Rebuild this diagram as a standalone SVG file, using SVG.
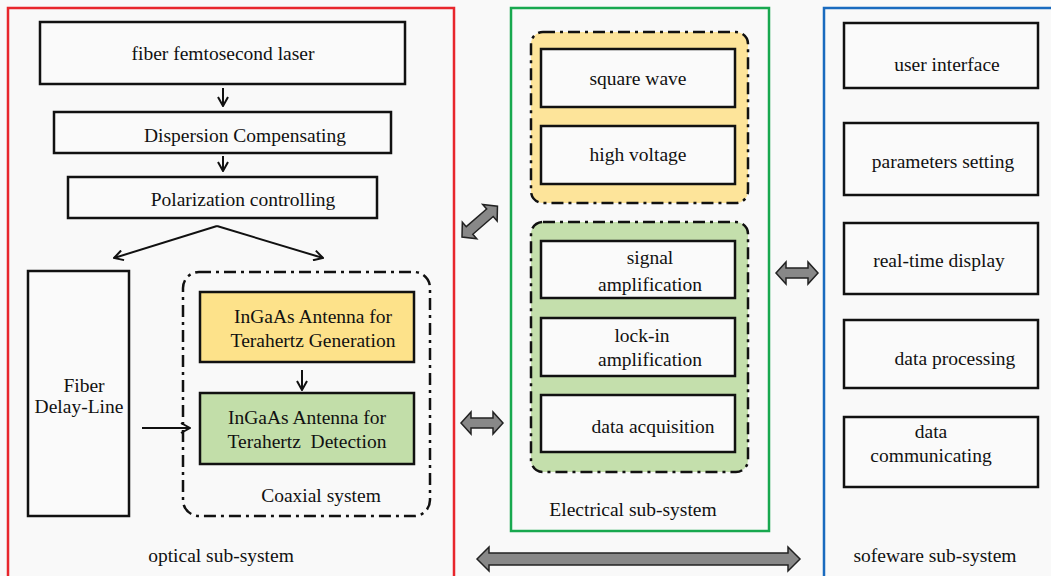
<svg xmlns="http://www.w3.org/2000/svg" width="1051" height="576" viewBox="0 0 1051 576">
<style>
text{font-family:"Liberation Serif","DejaVu Serif",serif;font-size:19.5px;fill:#111;text-anchor:middle}
.box{fill:#fafafa;stroke:#111;stroke-width:2.5}
.ln{stroke:#111;stroke-width:2;fill:none}
.dash{stroke:#111;stroke-width:2.5;stroke-dasharray:12,5,3,5}
.garrow{fill:#888;stroke:#222;stroke-width:1.5}
</style>
<defs>
<marker id="ah" viewBox="0 0 12 12" refX="11" refY="6" markerWidth="12" markerHeight="12" markerUnits="userSpaceOnUse" orient="auto">
<path d="M2,1 L11,6 L2,11" fill="none" stroke="#111" stroke-width="2"/>
</marker>
</defs>
<rect x="0" y="0" width="1051" height="576" fill="#f9f9f9"/>
<g id="optical-frame" font-family="Liberation Serif, serif"><rect x="8" y="8" width="446" height="580" fill="none" stroke="#e8262c" stroke-width="2.5"/><text x="221" y="562">optical sub-system</text></g>
<g id="electrical-frame"><rect x="511" y="8" width="258" height="523" fill="none" stroke="#18a84f" stroke-width="2.5"/><text x="633" y="516">Electrical sub-system</text></g>
<g id="software-frame"><rect x="824" y="8" width="240" height="580" fill="none" stroke="#1a6bbf" stroke-width="2.5"/><text x="935" y="562">sofeware sub-system</text></g>

<g id="laser"><rect class="box" x="40" y="22" width="365" height="62"/><text x="223" y="60">fiber femtosecond laser</text></g>
<g id="dispersion"><rect class="box" x="54" y="112" width="337" height="41"/><text x="245" y="142">Dispersion Compensating</text></g>
<g id="polarization"><rect class="box" x="68" y="177" width="309" height="41"/><text x="243" y="206">Polarization controlling</text></g>
<g id="delay-line"><rect class="box" x="28" y="271" width="101" height="245"/><text x="84" y="392">Fiber</text><text x="79" y="413">Delay-Line</text></g>
<g id="coaxial"><rect x="183" y="272" width="247" height="244" rx="16" fill="none" class="dash"/><text x="321" y="502">Coaxial system</text></g>
<g id="gen"><rect x="200" y="292" width="214" height="70" fill="#fde28a" stroke="#111" stroke-width="2.5"/><text x="313" y="323">InGaAs Antenna for</text><text x="313" y="347">Terahertz Generation</text></g>
<g id="det"><rect x="200" y="393" width="214" height="71" fill="#c2dea9" stroke="#111" stroke-width="2.5"/><text x="307" y="424">InGaAs Antenna for</text><text x="307" y="448" xml:space="preserve">Terahertz  Detection</text></g>

<g id="elec-gen"><rect x="531" y="32" width="217" height="171" rx="12" fill="#fde49a" class="dash"/></g>
<g id="square"><rect class="box" x="541" y="49" width="194" height="58"/><text x="638" y="85">square wave</text></g>
<g id="hv"><rect class="box" x="541" y="126" width="194" height="58"/><text x="638" y="161">high voltage</text></g>
<g id="elec-det"><rect x="531" y="222" width="217" height="250" rx="12" fill="#c4dfac" class="dash"/></g>
<g id="sigamp"><rect class="box" x="541" y="241" width="194" height="57"/><text x="650" y="264">signal</text><text x="650" y="291">amplification</text></g>
<g id="lockin"><rect class="box" x="541" y="318" width="194" height="58"/><text x="642" y="342">lock-in</text><text x="650" y="366">amplification</text></g>
<g id="daq"><rect class="box" x="541" y="395" width="194" height="57"/><text x="653" y="433">data acquisition</text></g>

<g id="ui"><rect class="box" x="844" y="23" width="194" height="65"/><text x="947" y="71">user interface</text></g>
<g id="params"><rect class="box" x="844" y="123" width="194" height="72"/><text x="943" y="168">parameters setting</text></g>
<g id="display"><rect class="box" x="844" y="223" width="194" height="71"/><text x="939" y="267">real-time display</text></g>
<g id="processing"><rect class="box" x="844" y="320" width="194" height="68"/><text x="955" y="365">data processing</text></g>
<g id="communicating"><rect class="box" x="844" y="417" width="194" height="70"/><text x="931" y="438">data</text><text x="931" y="462">communicating</text></g>

<g id="connectors">
<line class="ln" x1="223" y1="88" x2="223" y2="106" marker-end="url(#ah)"/>
<line class="ln" x1="223" y1="156" x2="223" y2="171" marker-end="url(#ah)"/>
<line class="ln" x1="217" y1="226" x2="114" y2="258" marker-end="url(#ah)"/>
<line class="ln" x1="217" y1="226" x2="323" y2="258" marker-end="url(#ah)"/>
<line class="ln" x1="302" y1="370" x2="302" y2="390" marker-end="url(#ah)"/>
<line class="ln" x1="142" y1="428" x2="190" y2="428" marker-end="url(#ah)"/>
<path class="garrow" transform="translate(462,237) rotate(-41)" d="M0,0 L10,-11 L10,-5 L37,-5 L37,-11 L47,0 L37,11 L37,5 L10,5 L10,11 Z"/>
<path class="garrow" transform="translate(461,423)" d="M0,0 L10,-11 L10,-5 L32,-5 L32,-11 L42,0 L32,11 L32,5 L10,5 L10,11 Z"/>
<path class="garrow" transform="translate(776,273)" d="M0,0 L10,-11 L10,-5 L32,-5 L32,-11 L42,0 L32,11 L32,5 L10,5 L10,11 Z"/>
<path class="garrow" transform="translate(477,559)" d="M0,0 L12,-12 L12,-6 L311,-6 L311,-12 L323,0 L311,12 L311,6 L12,6 L12,12 Z"/>
</g>
</svg>
